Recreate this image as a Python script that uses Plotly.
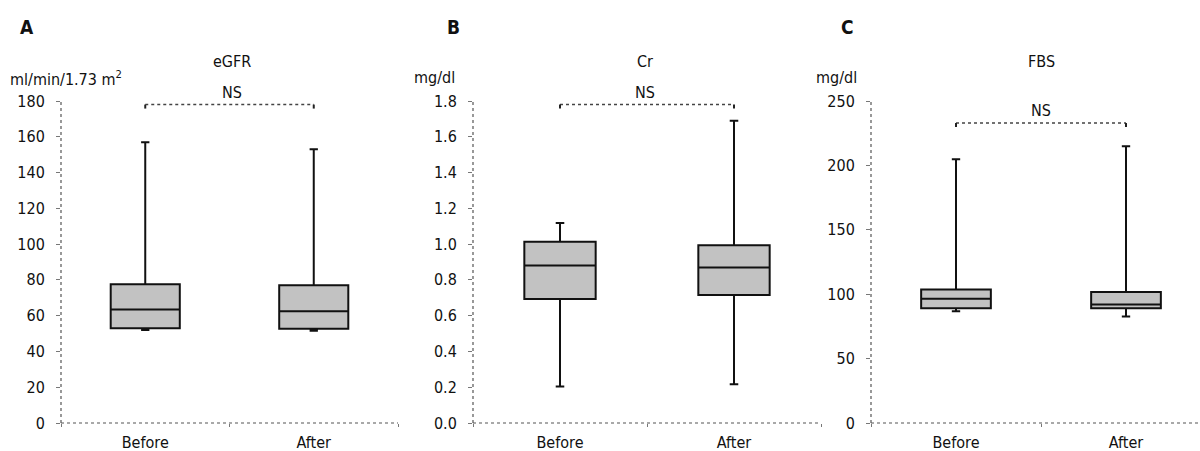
import plotly.graph_objects as go

# ---------------- data ----------------
categories = ["Before", "After"]

egfr_lower = [52.0, 51.5]
egfr_q1 = [53.0, 52.7]
egfr_median = [63.4, 62.5]
egfr_q3 = [77.5, 77.0]
egfr_upper = [157.0, 153.0]

cr_lower = [0.204, 0.217]
cr_q1 = [0.693, 0.716]
cr_median = [0.880, 0.869]
cr_q3 = [1.013, 0.994]
cr_upper = [1.118, 1.690]

fbs_lower = [86.8, 82.6]
fbs_q1 = [89.1, 89.1]
fbs_median = [96.4, 92.0]
fbs_q3 = [103.6, 101.8]
fbs_upper = [204.7, 214.8]

panel_letters = ["A", "B", "C"]
panel_titles = ["eGFR", "Cr", "FBS"]
unit_labels = ["ml/min/1.73 m<sup>2</sup>", "mg/dl", "mg/dl"]
sig_labels = ["NS", "NS", "NS"]
bracket_levels = [178.0, 1.78, 233.0]
y_max = [180, 1.8, 250]
y_dtick = [20, 0.2, 50]
y_format = ["d", ".1f", "d"]

# ---------------- layout helpers ----------------
W, H = 1200, 451
MT, MB = 101, 28
PH = H - MT - MB
FONT = "Liberation Sans Narrow, Arial Narrow, DejaVu Sans Condensed, sans-serif"


def px(x):
    return x / W


def py(y):
    return (H - MB - y) / PH


x_domains = [[px(61), px(398)], [px(473), px(821)], [px(871), 1.0]]
x_ranges = [[-0.5, 1.5], [-0.5, 1.5], [-0.5, -0.5 + (1200 - 871) / 170.0]]
letter_pos = [(27, 27), (453, 27), (847, 27)]
unit_pos = [(8, 78), (412, 77), (814, 77)]
title_pos = [(232, 62), (645, 62), (1041, 62)]
sig_pos = [(232, 92), (645, 92), (1041, 110)]

stats = [
    (egfr_lower, egfr_q1, egfr_median, egfr_q3, egfr_upper),
    (cr_lower, cr_q1, cr_median, cr_q3, cr_upper),
    (fbs_lower, fbs_q1, fbs_median, fbs_q3, fbs_upper),
]

fig = go.Figure()
shapes = []
annotations = []

for i in range(3):
    xa = "x" if i == 0 else f"x{i+1}"
    ya = "y" if i == 0 else f"y{i+1}"
    lo, q1, med, q3, hi = stats[i]
    fig.add_trace(go.Box(
        x=categories, lowerfence=lo, q1=q1, median=med, q3=q3, upperfence=hi,
        xaxis=xa, yaxis=ya, boxpoints=False, width=0.41, whiskerwidth=0.12,
        fillcolor="#c2c2c2", line=dict(color="#111111", width=2),
        showlegend=False, hoverinfo="skip",
    ))

    axis_key = "xaxis" if i == 0 else f"xaxis{i+1}"
    yaxis_key = "yaxis" if i == 0 else f"yaxis{i+1}"
    fig.update_layout(**{
        axis_key: dict(
            domain=x_domains[i], range=x_ranges[i], anchor=ya,
            type="category", tickson="boundaries", ticks="outside", ticklen=3,
            tickcolor="#777777", showgrid=False, zeroline=False, showline=False,
            ticklabelstandoff=8,
            tickfont=dict(family=FONT, size=16, color="#111111"),
            fixedrange=True,
        ),
        yaxis_key: dict(
            domain=[0, 1], range=[0, y_max[i]], anchor=xa, dtick=y_dtick[i],
            tick0=0, tickformat=y_format[i], ticks="outside", ticklen=4,
            tickcolor="#777777", showgrid=False, zeroline=False, showline=False,
            ticklabelstandoff=8,
            tickfont=dict(family=FONT, size=16, color="#111111"),
            fixedrange=True,
        ),
    })

    # dotted axis lines
    shapes.append(dict(type="line", xref=f"{xa} domain", yref=f"{ya} domain",
                       x0=0, x1=0, y0=0, y1=1,
                       line=dict(color="#555555", width=1.2, dash="dot")))
    shapes.append(dict(type="line", xref=f"{xa} domain", yref=f"{ya} domain",
                       x0=0, x1=1, y0=0, y1=0,
                       line=dict(color="#555555", width=1.2, dash="dot")))

    # significance bracket
    lvl = bracket_levels[i]
    tick = y_max[i] * 4.0 / PH
    shapes.append(dict(type="line", xref=xa, yref=ya, x0=0, x1=1, y0=lvl, y1=lvl,
                       line=dict(color="#444444", width=1.5, dash="dot")))
    for xc in (0, 1):
        shapes.append(dict(type="line", xref=xa, yref=ya, x0=xc, x1=xc,
                           y0=lvl, y1=lvl - tick,
                           line=dict(color="#222222", width=2)))

    annotations.append(dict(text=f"<b>{panel_letters[i]}</b>", xref="paper", yref="paper",
                            x=px(letter_pos[i][0]), y=py(letter_pos[i][1]),
                            xanchor="center", yanchor="middle", showarrow=False,
                            font=dict(family=FONT, size=19, color="#111111")))
    annotations.append(dict(text=unit_labels[i], xref="paper", yref="paper",
                            x=px(unit_pos[i][0]), y=py(unit_pos[i][1]),
                            xanchor="left", yanchor="middle", showarrow=False,
                            font=dict(family=FONT, size=16, color="#111111")))
    annotations.append(dict(text=panel_titles[i], xref="paper", yref="paper",
                            x=px(title_pos[i][0]), y=py(title_pos[i][1]),
                            xanchor="center", yanchor="middle", showarrow=False,
                            font=dict(family=FONT, size=16, color="#111111")))
    annotations.append(dict(text=sig_labels[i], xref="paper", yref="paper",
                            x=px(sig_pos[i][0]), y=py(sig_pos[i][1]),
                            xanchor="center", yanchor="middle", showarrow=False,
                            font=dict(family=FONT, size=16, color="#111111")))

fig.update_layout(
    width=W, height=H, autosize=False,
    margin=dict(l=0, r=0, t=MT, b=MB),
    paper_bgcolor="white", plot_bgcolor="white",
    shapes=shapes, annotations=annotations,
    font=dict(family=FONT, size=16, color="#111111"),
)

fig.write_html(
    "out.html",
    config={"displayModeBar": False, "staticPlot": True},
    post_script="document.body.style.margin='0';document.body.style.overflow='hidden';",
)
